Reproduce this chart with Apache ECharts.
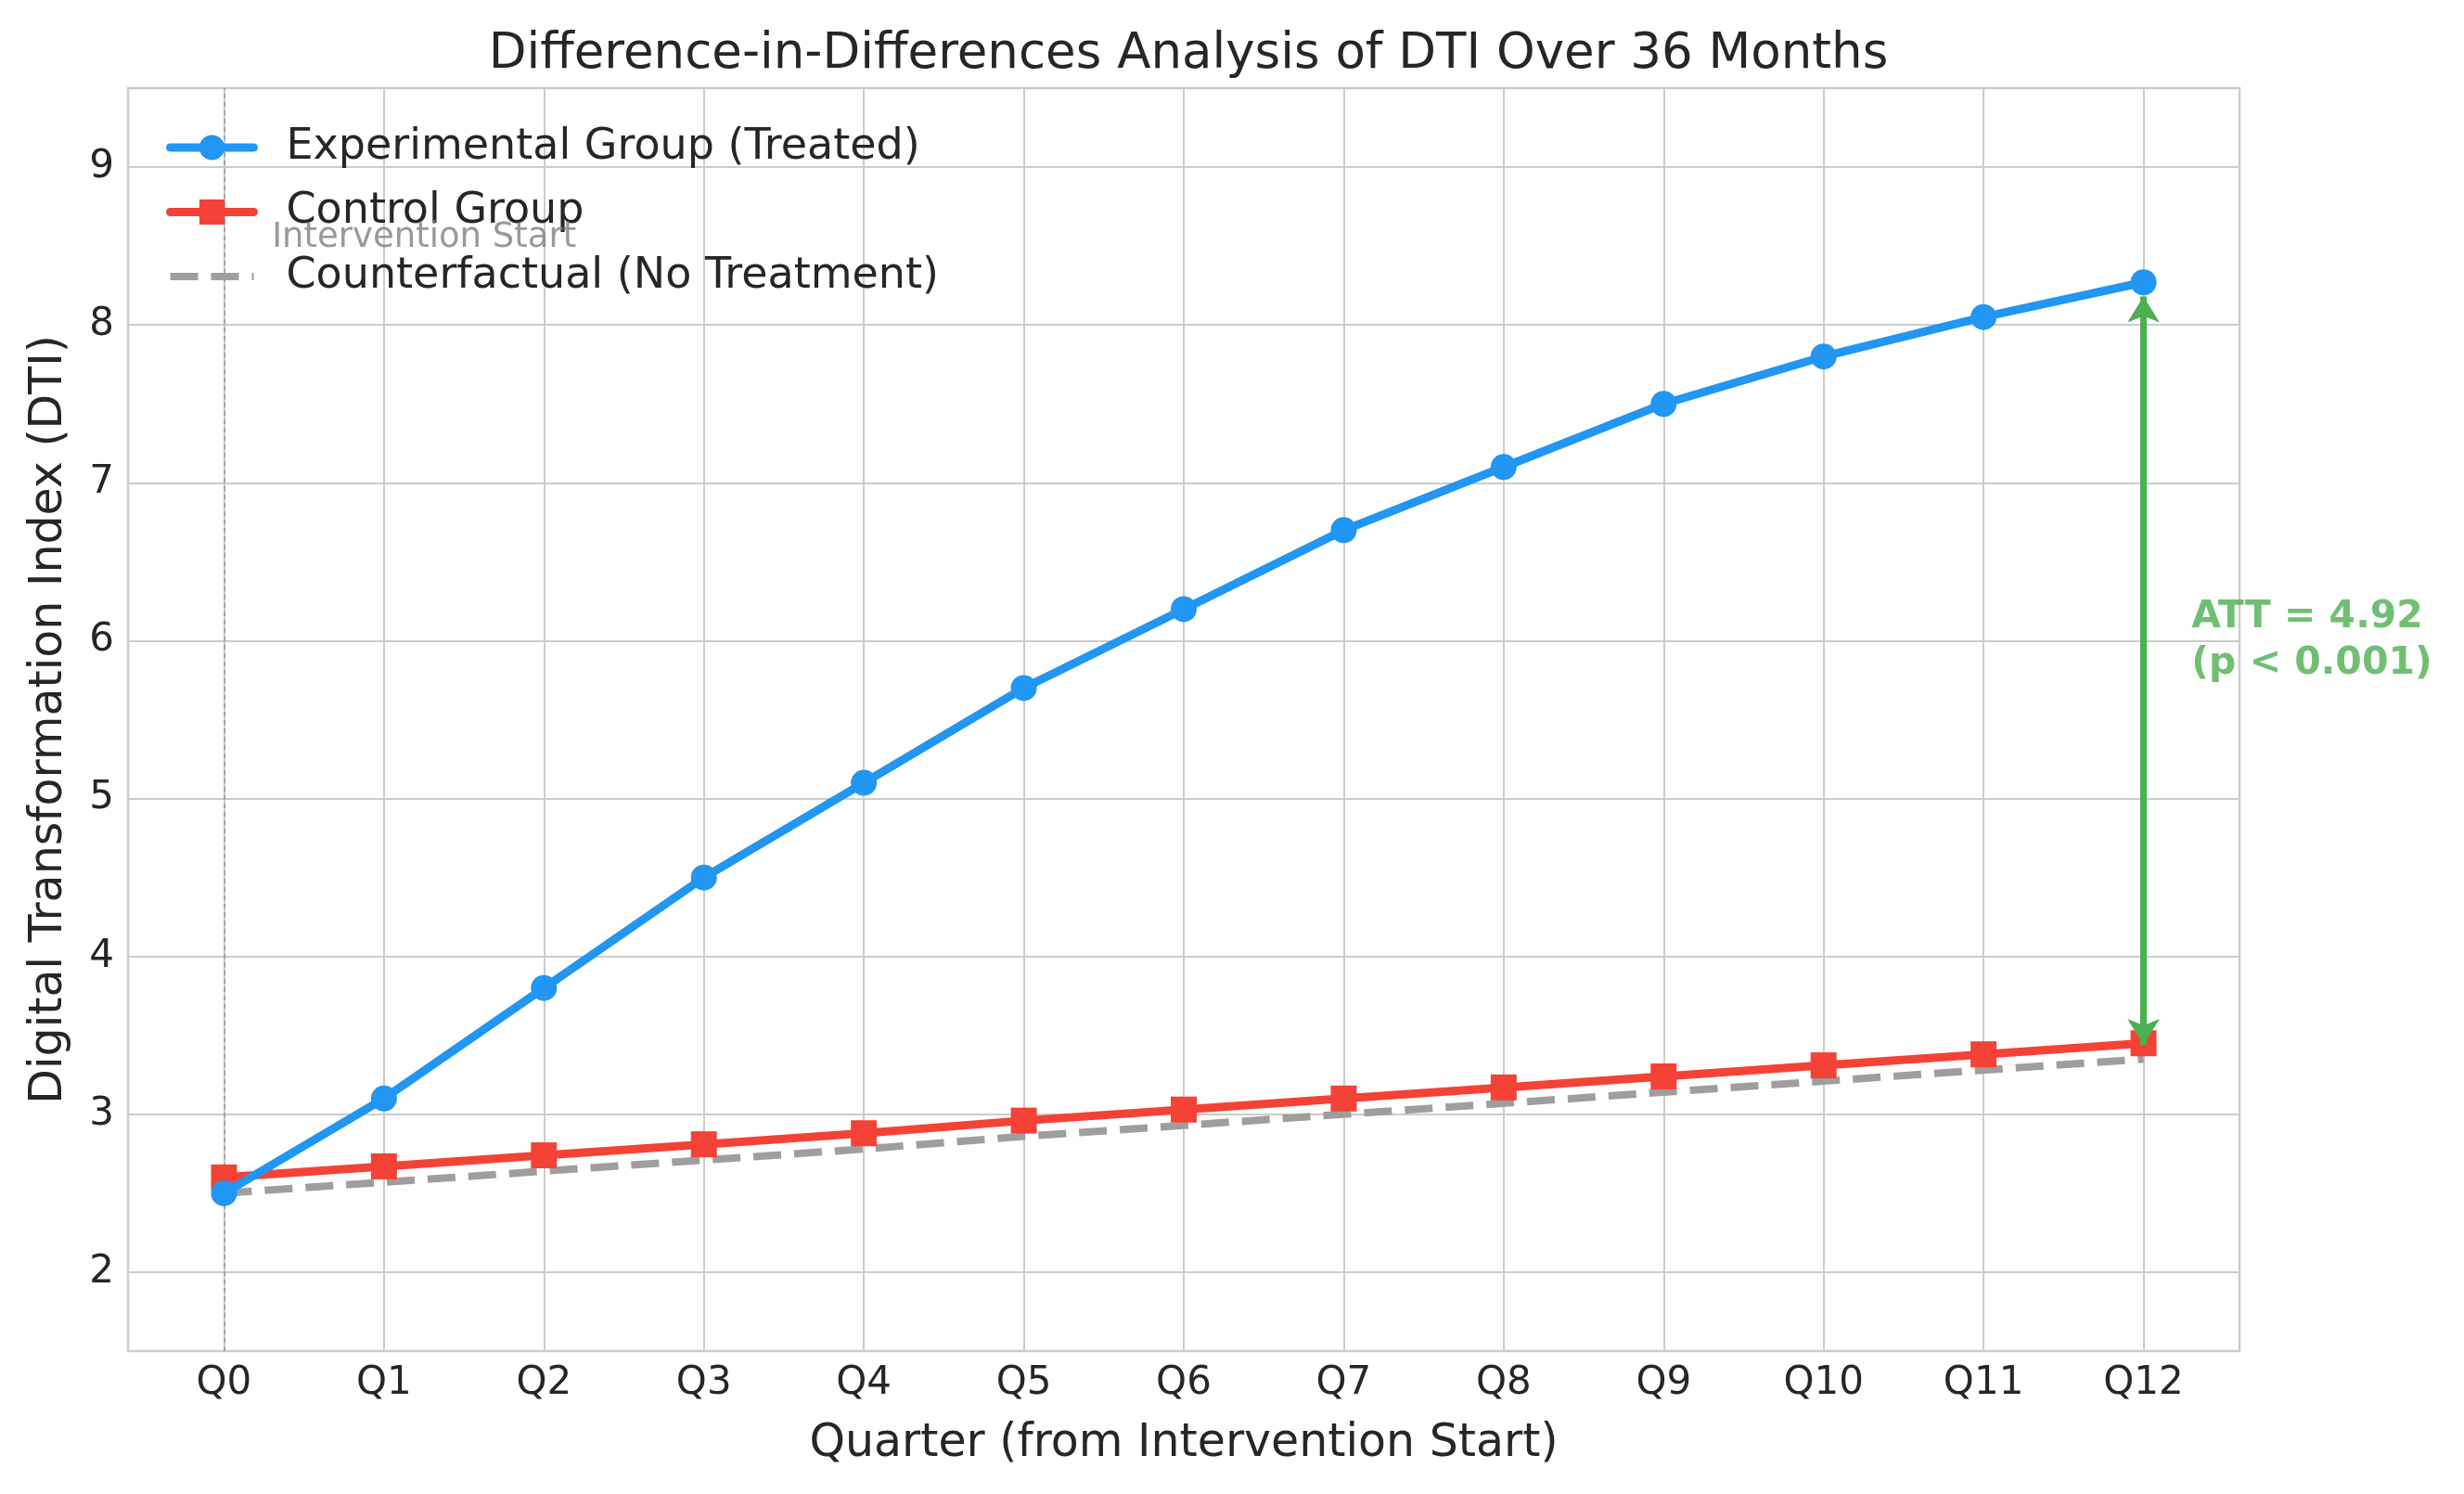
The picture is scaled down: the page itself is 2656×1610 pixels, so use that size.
<!DOCTYPE html>
<html><head><meta charset="utf-8">
<script src="https://cdn.jsdelivr.net/npm/echarts@6/dist/echarts.min.js"></script>
<style>html,body{margin:0;padding:0;background:#fff}#c{width:2656px;height:1610px}</style>
</head><body><div id="c"></div>
<script>
const quarters = ['Q0','Q1','Q2','Q3','Q4','Q5','Q6','Q7','Q8','Q9','Q10','Q11','Q12'];
const treated = [2.5, 3.1, 3.8, 4.5, 5.1, 5.7, 6.2, 6.7, 7.1, 7.5, 7.8, 8.05, 8.27];
const control = [2.6, 2.67, 2.74, 2.81, 2.88, 2.96, 3.03, 3.10, 3.17, 3.24, 3.31, 3.38, 3.45];
const counterfactual = [2.5, 2.57, 2.64, 2.71, 2.78, 2.86, 2.93, 3.00, 3.07, 3.14, 3.21, 3.28, 3.35];
const yTicks = [2, 3, 4, 5, 6, 7, 8, 9];
const seriesNames = ['Experimental Group (Treated)', 'Control Group', 'Counterfactual (No Treatment)'];
const attLabel = 'ATT = 4.92\n(p < 0.001)';
const interventionLabel = 'Intervention Start';

const xIdx = quarters.map((q, i) => i);
const pts = arr => arr.map((v, i) => [i, v]);
const last = quarters.length - 1;
const shrink = 0.09;
const font = 'DejaVu Sans';
const txt = '#262626';

const chart = echarts.init(document.getElementById('c'), null, {renderer: 'canvas'});
chart.setOption({
  animation: false,
  backgroundColor: '#ffffff',
  textStyle: {fontFamily: font},
  title: {
    text: 'Difference-in-Differences Analysis of DTI Over 36 Months',
    left: 1276, top: 28, textAlign: 'center',
    textStyle: {fontFamily: font, fontSize: 53, fontWeight: 'normal', color: txt}
  },
  legend: {
    data: [
      {name: seriesNames[0], lineStyle: {cap: 'round'}},
      {name: seriesNames[1], lineStyle: {cap: 'round'}},
      {name: seriesNames[2], itemStyle: {color: 'rgba(0,0,0,0)', borderWidth: 0, opacity: 0}}
    ],
    orient: 'vertical', left: 174, top: 131,
    itemWidth: 90, itemHeight: 34, itemGap: 23.5,
    lineStyle: {width: 'inherit'},
    textStyle: {fontFamily: font, fontSize: 46, color: txt, lineHeight: 30, padding: [0, 0, 0, 30]}
  },
  grid: {left: 138, right: 242, top: 95, bottom: 154, show: true, borderColor: '#cccccc', borderWidth: 2.5, containLabel: false},
  xAxis: {
    type: 'value', min: -0.6, max: 12.6,
    name: 'Quarter (from Intervention Start)', nameLocation: 'middle', nameGap: 76,
    nameTextStyle: {fontFamily: font, fontSize: 49, color: txt},
    axisLine: {show: false},
    axisTick: {show: false, customValues: xIdx},
    axisLabel: {customValues: xIdx, formatter: v => quarters[Math.round(v)], fontSize: 42, color: txt, margin: 14, fontFamily: font},
    splitLine: {show: true, lineStyle: {color: '#cccccc', width: 2}}
  },
  yAxis: {
    type: 'value', min: 1.5, max: 9.5,
    name: 'Digital Transformation Index (DTI)', nameLocation: 'middle', nameGap: 60,
    nameTextStyle: {fontFamily: font, fontSize: 49, color: txt},
    axisLine: {show: false},
    axisTick: {show: false, customValues: yTicks},
    axisLabel: {customValues: yTicks, fontSize: 42, color: txt, margin: 15, fontFamily: font},
    splitLine: {show: true, lineStyle: {color: '#cccccc', width: 2}}
  },
  series: [
    {
      name: seriesNames[2], type: 'line', data: pts(counterfactual), z: 2,
      symbol: 'circle', showSymbol: false, lineStyle: {color: '#9E9E9E', width: 8, type: [30, 14]}, itemStyle: {color: '#9E9E9E'},
      markLine: {
        silent: true, symbol: 'none', z: 1,
        label: {show: false},
        lineStyle: {color: '#999999', width: 2, type: [5, 4], opacity: 0.8},
        data: [{xAxis: 0}]
      }
    },
    {
      name: seriesNames[1], type: 'line', data: pts(control), z: 3,
      symbol: 'rect', symbolSize: 28, lineStyle: {color: '#F44336', width: 9}, itemStyle: {color: '#F44336'}
    },
    {
      name: seriesNames[0], type: 'line', data: pts(treated), z: 4,
      symbol: 'circle', symbolSize: 28, lineStyle: {color: '#2196F3', width: 9}, itemStyle: {color: '#2196F3'},
      markLine: {
        silent: true, symbol: ['arrow', 'arrow'], symbolSize: [26, 28], z: 5,
        label: {show: false},
        lineStyle: {color: '#4CAF50', width: 7, type: 'solid'},
        data: [[{coord: [last, treated[last] - shrink]}, {coord: [last, counterfactual[last] + shrink]}]]
      }
    },
    {
      name: 'annotations', type: 'scatter', symbolSize: 0, silent: true, z: 6,
      data: [
        {value: [0.3, 8.55], label: {show: true, formatter: interventionLabel, position: 'right', distance: 0,
          fontFamily: font, fontSize: 37, color: '#808080'}},
        {value: [12.3, 6.0], label: {show: true, formatter: attLabel, position: 'right', distance: 0,
          fontFamily: font, fontSize: 41, fontWeight: 'bold', color: '#4CAF50', lineHeight: 50}}
      ]
    }
  ]
});
</script></body></html>
